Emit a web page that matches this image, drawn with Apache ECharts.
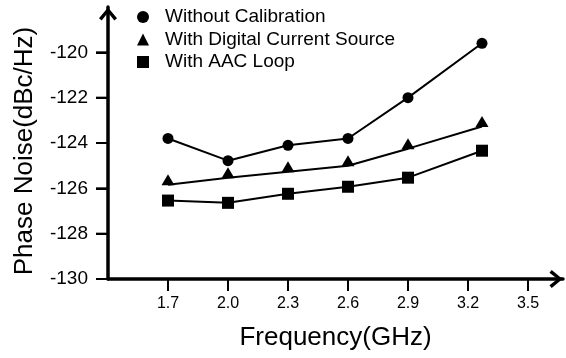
<!DOCTYPE html>
<html>
<head>
<meta charset="utf-8">
<script src="https://cdn.jsdelivr.net/npm/echarts@6/dist/echarts.min.js"></script>
<style>
  html, body { margin: 0; padding: 0; background: #fff; }
  #chart { width: 566px; height: 358px; }
</style>
</head>
<body>
<div id="chart"></div>
<script>
const FONT = "Liberation Sans, Arial, sans-serif";

// frequency points (GHz)
const freq = [1.7, 2.0, 2.3, 2.6, 2.9, 3.27];
const noWithoutCal = [-123.8, -124.78, -124.1, -123.8, -122.0, -119.6];
const noDigitalSrc = [-125.84, -125.53, -125.27, -125.0, -124.25, -123.27];
const noAacLoop = [-126.54, -126.64, -126.24, -125.93, -125.53, -124.34];

const xTicks = [1.7, 2.0, 2.3, 2.6, 2.9, 3.2, 3.5];
const yTicks = [-130, -128, -126, -124, -122, -120];

const X_MIN = 1.4;
const Y_MIN = -130;
const TICK_LEN = 12;

const SERIES = [
  { name: "Without Calibration", data: noWithoutCal, symbol: "circle", size: 11, offset: [0, 0] },
  { name: "With Digital Current Source", data: noDigitalSrc, symbol: "triangle", size: [13, 11], offset: [0, -5] },
  { name: "With AAC Loop", data: noAacLoop, symbol: "rect", size: 12, offset: [0, 0] },
];

// open chevron for the axis ends
const CHEVRON = "path://M0,12 L10,0 L20,12 L17,14.5 L10,5.5 L3,14.5 Z";

const makeAxisLine = () => ({
  show: true,
  lineStyle: { color: "#000", width: 3.5 },
  symbol: ["none", CHEVRON],
  symbolSize: [18, 14],
  symbolOffset: [0, -7],
});

const makeTick = (values) => ({
  show: true,
  length: TICK_LEN,
  lineStyle: { color: "#000", width: 2 },
  customValues: values,
});

// outward tick marks, placed through the cartesian scales
const tickSeries = (values, horizontal) => ({
  type: "custom",
  coordinateSystem: "cartesian2d",
  silent: true,
  clip: false,
  z: 5,
  data: values.map((v) => (horizontal ? [v, Y_MIN] : [X_MIN, v])),
  renderItem: (params, api) => {
    const p = api.coord([api.value(0), api.value(1)]);
    const shape = horizontal
      ? { x1: p[0], y1: p[1], x2: p[0], y2: p[1] + TICK_LEN }
      : { x1: p[0] - TICK_LEN, y1: p[1], x2: p[0], y2: p[1] };
    return { type: "line", shape, style: { stroke: "#000", lineWidth: 2 } };
  },
});

const chart = echarts.init(document.getElementById("chart"));

chart.setOption({
  backgroundColor: "#fff",
  animation: false,
  textStyle: { fontFamily: FONT },
  legend: {
    orient: "vertical",
    left: 132,
    top: 2,
    itemWidth: 12,
    itemHeight: 12,
    itemGap: 2.5,
    textStyle: { color: "#000", fontSize: 19, fontFamily: FONT, lineHeight: 20, padding: [0, 0, 0, 11] },
    data: SERIES.map(({ name, symbol }) => ({ name, icon: symbol })),
  },
  grid: { left: 108, right: 3, top: 7, bottom: 79 },
  xAxis: {
    type: "value",
    min: X_MIN,
    max: 3.675,
    name: "Frequency(GHz)",
    nameLocation: "middle",
    nameGap: 46,
    nameTextStyle: { color: "#000", fontSize: 26, fontFamily: FONT },
    axisLine: makeAxisLine(),
    axisTick: makeTick(xTicks),
    axisLabel: {
      show: true,
      color: "#000",
      fontSize: 16,
      fontFamily: FONT,
      margin: 17,
      customValues: xTicks,
      formatter: (v) => Number(v).toFixed(1),
    },
    splitLine: { show: false },
  },
  yAxis: {
    type: "value",
    min: Y_MIN,
    max: -118,
    name: "Phase Noise(dBc/Hz)",
    nameLocation: "middle",
    nameGap: 70,
    nameTextStyle: { color: "#000", fontSize: 26, fontFamily: FONT, padding: [0, 16, 0, 0] },
    axisLine: makeAxisLine(),
    axisTick: makeTick(yTicks),
    axisLabel: {
      show: true,
      color: "#000",
      fontSize: 19,
      fontFamily: FONT,
      margin: 20,
      customValues: yTicks,
    },
    splitLine: { show: false },
  },
  series: [
    ...SERIES.map(({ name, data, symbol, size, offset }) => ({
      type: "line",
      name,
      data: data.map((v, i) => [freq[i], v]),
      symbol,
      symbolSize: size,
      symbolOffset: offset,
      showAllSymbol: true,
      color: "#000",
      lineStyle: { color: "#000", width: 2 },
      itemStyle: { color: "#000" },
    })),
    tickSeries(xTicks, true),
    tickSeries(yTicks, false),
  ],
});
</script>
</body>
</html>
